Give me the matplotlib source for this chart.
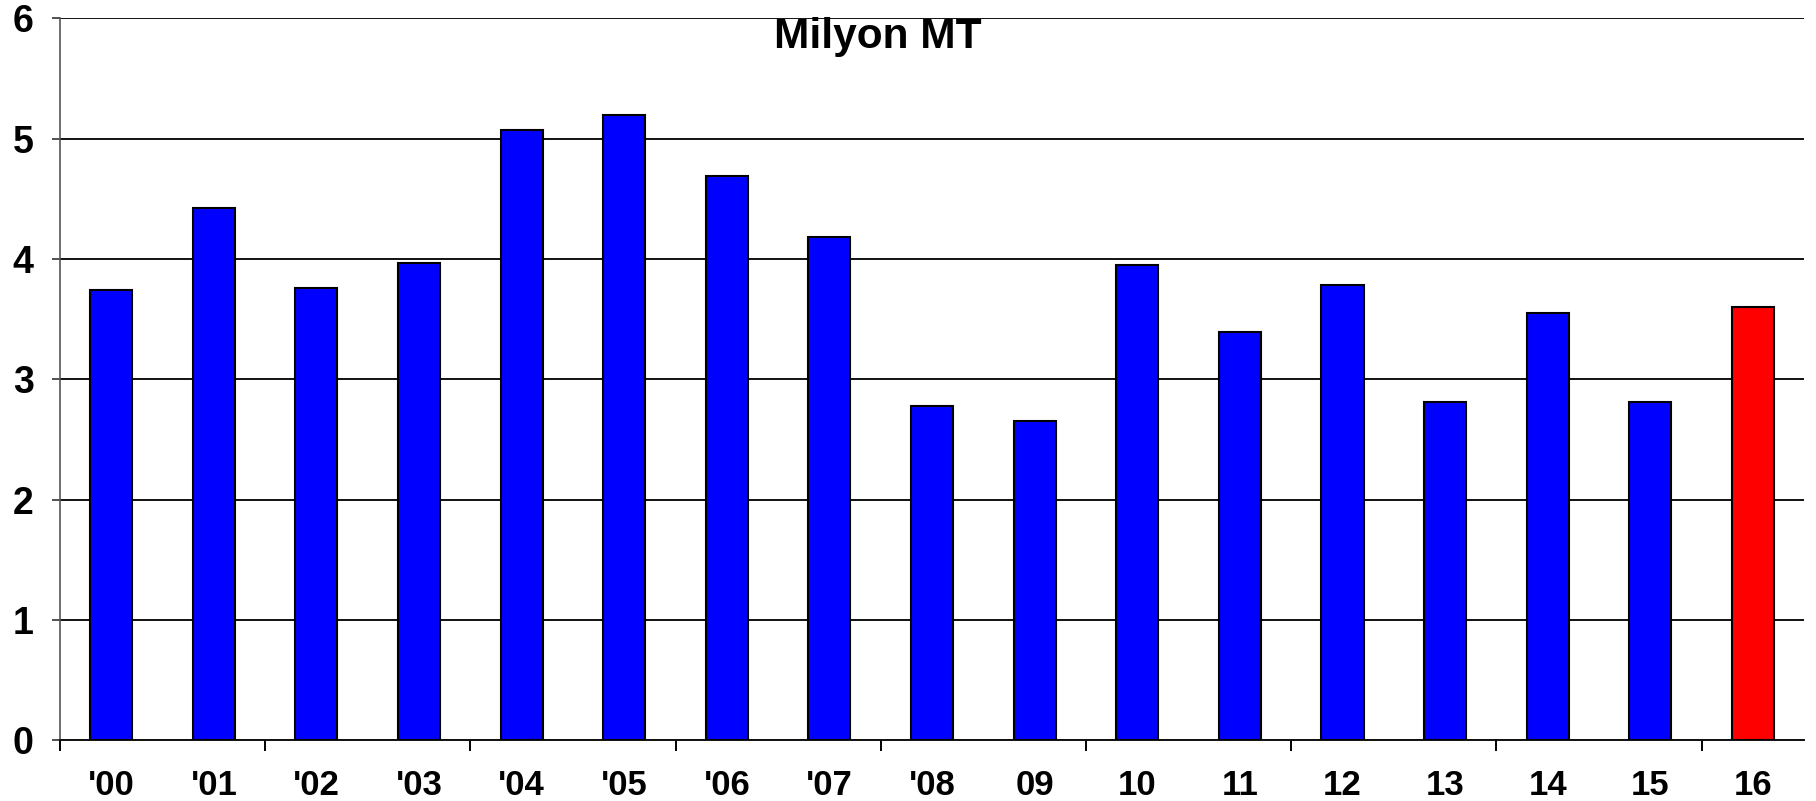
import matplotlib
matplotlib.use("Agg")
import matplotlib.pyplot as plt
import numpy as np

categories = ["'00", "'01", "'02", "'03", "'04", "'05", "'06", "'07", "'08",
              "09", "10", "11", "12", "13", "14", "15", "16"]
values = [3.74, 4.42, 3.76, 3.97, 5.07, 5.20, 4.69, 4.18, 2.78,
          2.65, 3.95, 3.39, 3.78, 2.81, 3.55, 2.81, 3.60]
bar_colors = ["#0000FF"] * 16 + ["#FF0000"]
y_ticks = [0, 1, 2, 3, 4, 5, 6]
title_text = "Milyon MT"

plt.rcParams['font.family'] = ['Liberation Sans', 'DejaVu Sans']
plt.rcParams['font.weight'] = 'bold'

fig = plt.figure(figsize=(18.16, 8.01), dpi=100)
ax = fig.add_axes([0.033, 0.076, 0.9605, 0.901])

x = np.arange(len(categories))
ax.set_axisbelow(True)
ax.yaxis.grid(True, color='#111111', linewidth=1.4)
ax.bar(x, values, width=0.41, color=bar_colors, edgecolor='black', linewidth=1.5, zorder=3)

ax.set_xlim(-0.5, len(categories) - 0.5)
ax.set_ylim(0, 6)
ax.set_yticks(y_ticks)
ax.set_yticklabels([str(t) for t in y_ticks], fontsize=27, fontweight='bold')
ax.tick_params(axis='y', length=6, width=1.2, pad=13, color='#333333')

# major ticks at boundaries every 2 categories, labels at centers via minor ticks
ax.set_xticks(np.arange(-0.5, len(categories) - 1, 2))
ax.set_xticklabels([])
ax.set_xticks(x, minor=True)
ax.set_xticklabels(categories, minor=True, fontsize=25, fontweight='bold')
ax.tick_params(axis='x', which='major', length=8, width=1.4, direction='out')
ax.tick_params(axis='x', which='minor', length=0, pad=21)

for s in ['top', 'right']:
    ax.spines[s].set_visible(False)
ax.spines['left'].set_color('#555555')
ax.spines['left'].set_linewidth(1.2)
ax.spines['bottom'].set_color('#111111')
ax.spines['bottom'].set_linewidth(1.4)

ax.text(0.4835, 0.979, title_text, transform=fig.transFigure, ha='center', va='top',
        fontsize=30.5, fontweight='bold')

fig.savefig("out.png", dpi=100)
